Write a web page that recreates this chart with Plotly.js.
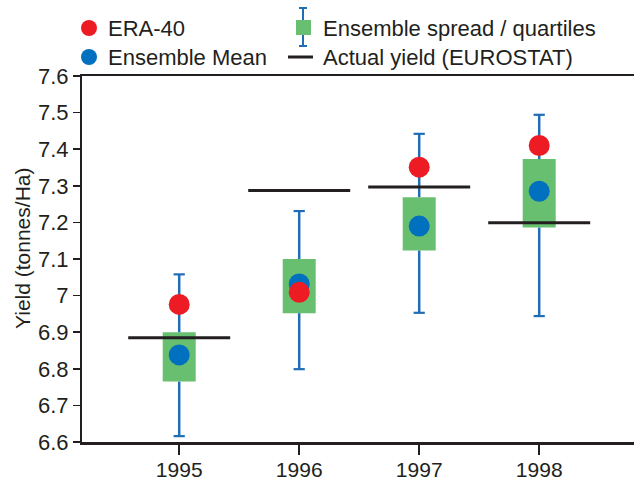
<!DOCTYPE html>
<html>
<head>
<meta charset="utf-8">
<script src="https://cdn.plot.ly/plotly-3.0.1.min.js"></script>
<style>html,body{margin:0;padding:0;background:#fff;}#chart{width:634px;height:481px;}</style>
</head>
<body>
<div id="chart"></div>
<script>
// ---- data ----
var years = ['1995', '1996', '1997', '1998'];
var spreadMin = [6.616, 6.799, 6.953, 6.944];
var spreadMax = [7.058, 7.231, 7.442, 7.494];
var quartileLow = [6.765, 6.952, 7.123, 7.186];
var quartileHigh = [6.900, 7.100, 7.269, 7.373];
var ensembleMean = [6.838, 7.032, 7.190, 7.285];
var era40 = [6.976, 7.009, 7.351, 7.410];
var actualYield = [6.885, 7.287, 7.297, 7.199];

var legendLabels = ['ERA-40', 'Ensemble spread / quartiles', 'Ensemble Mean', 'Actual yield (EUROSTAT)'];
var yTitle = 'Yield (tonnes/Ha)';

// ---- styling ----
var RED = '#ed1c24', BLUE = '#0070bf', WHISK = '#1f6db5', GREEN = '#68bf6f', DARK = '#231f20';
var FONT = 'Liberation Sans, Arial, sans-serif';
var W = 634, H = 481, ML = 82, MR = 0, MT = 76, MB = 39;
var PW = W - ML - MR, PH = H - MT - MB;
function px(x) { return (x - ML) / PW; }
function py(y) { return (H - MB - y) / PH; }

var idx = years.map(function (_, i) { return i; });

// box (quartiles) as bars with base
var boxTrace = {
  type: 'bar', x: idx,
  y: quartileHigh.map(function (v, i) { return v - quartileLow[i]; }),
  base: quartileLow, width: 0.275,
  marker: { color: GREEN, line: { width: 0 } },
  showlegend: false, hoverinfo: 'skip'
};

// whiskers (outside the box)
var wx = [], wy = [];
idx.forEach(function (i) {
  wx.push(i, i, null, i, i, null);
  wy.push(quartileHigh[i], spreadMax[i], null, quartileLow[i], spreadMin[i], null);
});
var whiskerTrace = {
  type: 'scatter', mode: 'lines', x: wx, y: wy,
  line: { color: WHISK, width: 2.5 }, showlegend: false, hoverinfo: 'skip'
};
var capTrace = {
  type: 'scatter', mode: 'markers',
  x: idx.concat(idx), y: spreadMax.concat(spreadMin),
  marker: { symbol: 'line-ew', size: 8, line: { color: WHISK, width: 2.2 } },
  showlegend: false, hoverinfo: 'skip'
};

// actual yield segments
var ax = [], ay = [];
idx.forEach(function (i) {
  ax.push(i - 0.425, i + 0.425, null);
  ay.push(actualYield[i], actualYield[i], null);
});
var actualTrace = {
  type: 'scatter', mode: 'lines', x: ax, y: ay,
  line: { color: DARK, width: 3 }, showlegend: false
};

var meanTrace = {
  type: 'scatter', mode: 'markers', x: idx, y: ensembleMean,
  marker: { color: BLUE, size: 21 }, showlegend: false
};
var eraTrace = {
  type: 'scatter', mode: 'markers', x: idx, y: era40,
  marker: { color: RED, size: 21 }, showlegend: false
};

// ---- custom legend ----
var shapes = [];
function circle(cx, cy, d, color) {
  shapes.push({ type: 'circle', xref: 'paper', yref: 'paper',
    x0: px(cx - d / 2), x1: px(cx + d / 2), y0: py(cy + d / 2), y1: py(cy - d / 2),
    fillcolor: color, line: { width: 0 } });
}
function seg(x0, y0, x1, y1, color, w) {
  shapes.push({ type: 'line', xref: 'paper', yref: 'paper',
    x0: px(x0), x1: px(x1), y0: py(y0), y1: py(y1), line: { color: color, width: w } });
}
circle(89, 28, 16, RED);
circle(89, 57, 16, BLUE);
// spread symbol
seg(303, 8, 303, 46, WHISK, 2);
seg(299, 8, 307, 8, WHISK, 2);
seg(299, 46, 307, 46, WHISK, 2);
shapes.push({ type: 'rect', xref: 'paper', yref: 'paper',
  x0: px(296), x1: px(311), y0: py(35), y1: py(20), fillcolor: GREEN, line: { width: 0 } });
seg(288, 57, 313, 57, DARK, 3);

var annotations = [
  { t: legendLabels[0], x: 106, y: 28 },
  { t: legendLabels[1], x: 321, y: 28 },
  { t: legendLabels[2], x: 106, y: 57 },
  { t: legendLabels[3], x: 321, y: 57 }
].map(function (a) {
  return { text: a.t, xref: 'paper', yref: 'paper', x: px(a.x), y: py(a.y),
    xanchor: 'left', yanchor: 'middle', showarrow: false,
    font: { family: FONT, size: 22, color: DARK } };
});
annotations.push({ text: yTitle, xref: 'paper', yref: 'paper', x: px(22), y: py(249),
  xanchor: 'center', yanchor: 'middle', textangle: -90, showarrow: false,
  font: { family: FONT, size: 21, color: DARK } });

var layout = {
  width: W, height: H,
  margin: { l: ML, r: MR, t: MT, b: MB, pad: 0 },
  paper_bgcolor: '#fff', plot_bgcolor: '#fff',
  showlegend: false,
  font: { family: FONT, size: 21, color: DARK },
  xaxis: {
    type: 'linear', range: [-0.81, 3.79],
    tickvals: idx, ticktext: years,
    showgrid: false, zeroline: false,
    showline: true, linecolor: DARK, linewidth: 2.5, mirror: true,
    ticks: 'outside', ticklen: 10, tickwidth: 2, tickcolor: DARK,
    ticklabelstandoff: -3,
    tickfont: { family: FONT, size: 21, color: DARK }
  },
  yaxis: {
    range: [6.6, 7.6], dtick: 0.1, tick0: 6.6,
    showgrid: false, zeroline: false,
    showline: true, linecolor: DARK, linewidth: 2,
    ticks: 'outside', ticklen: 7, tickwidth: 1.5, tickcolor: DARK,
    tickfont: { family: FONT, size: 22, color: DARK }
  },
  shapes: shapes,
  annotations: annotations
};

Plotly.newPlot('chart', [boxTrace, whiskerTrace, capTrace, actualTrace, meanTrace, eraTrace], layout,
  { displayModeBar: false, staticPlot: true });
</script>
</body>
</html>
